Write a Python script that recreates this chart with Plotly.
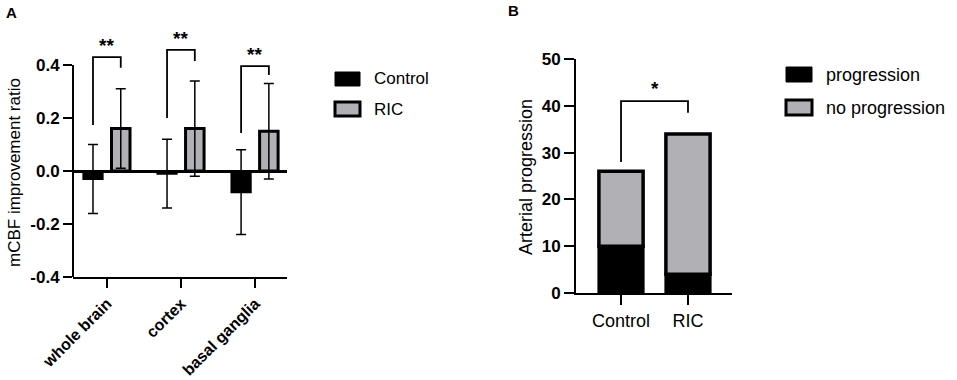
import plotly.graph_objects as go

# ---------------- data ----------------
regions = ["whole brain", "cortex", "basal ganglia"]
control_mean = [-0.03, -0.01, -0.08]
control_sd = [0.13, 0.13, 0.16]
ric_mean = [0.16, 0.16, 0.15]
ric_sd = [0.15, 0.18, 0.18]
sig_a = ["**", "**", "**"]
bracket_top_a = [0.43, 0.457, 0.396]
bracket_left_a = [0.174, 0.20, 0.143]
bracket_right_a = [0.39, 0.415, 0.362]
star_y_a = [0.475, 0.50, 0.44]
ytick_a = [-0.4, -0.2, 0.0, 0.2, 0.4]
ytext_a = ["-0.4", "-0.2", "0.0", "0.2", "0.4"]

groups = ["Control", "RIC"]
progression = [10, 4]
no_progression = [16, 30]
ytick_b = [0, 10, 20, 30, 40, 50]
sig_b = "*"
bracket_b = dict(top=41, left=28, right=38.5, star=43.7)

series_a = ["Control", "RIC"]
series_b = ["progression", "no progression"]

# ---------------- style ----------------
W, H = 957, 380
FONT = "Arial, Liberation Sans, sans-serif"
GREY = "#b0b0b5"
BLACK = "#000000"

def px(x):
    return x / W

def py(y):
    return 1 - y / H

fig = go.Figure()

# Panel A bars
fig.add_trace(go.Bar(
    x=regions, y=control_mean, name=series_a[0],
    marker=dict(color=BLACK, line=dict(color=BLACK, width=2)),
    width=0.26, offset=-0.32,
    error_y=dict(type="data", array=control_sd, visible=True, color=BLACK, thickness=1.5, width=5),
    xaxis="x", yaxis="y", showlegend=False))
fig.add_trace(go.Bar(
    x=regions, y=ric_mean, name=series_a[1],
    marker=dict(color=GREY, line=dict(color=BLACK, width=3)),
    width=0.25, offset=0.06,
    error_y=dict(type="data", array=ric_sd, visible=True, color=BLACK, thickness=1.5, width=5),
    xaxis="x", yaxis="y", showlegend=False))

# Panel B stacked bars
fig.add_trace(go.Bar(
    x=groups, y=progression, name=series_b[0],
    marker=dict(color=BLACK, line=dict(color=BLACK, width=3)),
    width=0.66, offset=-0.33,
    xaxis="x2", yaxis="y2", showlegend=False))
fig.add_trace(go.Bar(
    x=groups, y=no_progression, base=progression, name=series_b[1],
    marker=dict(color=GREY, line=dict(color=BLACK, width=3.5)),
    width=0.66, offset=-0.33,
    xaxis="x2", yaxis="y2", showlegend=False))

shapes = []
annotations = []

# A: y-axis line only from -0.4 to 0.4
shapes.append(dict(type="line", xref="x domain", yref="y", x0=0, x1=0, y0=-0.4, y1=0.4,
                   line=dict(color=BLACK, width=2)))

# A: significance brackets
cl, cr = -0.19, 0.185
for i in range(len(regions)):
    shapes.append(dict(type="path", xref="x", yref="y",
                       path=f"M{i+cl},{bracket_left_a[i]} L{i+cl},{bracket_top_a[i]} L{i+cr},{bracket_top_a[i]} L{i+cr},{bracket_right_a[i]}",
                       line=dict(color=BLACK, width=1.8)))
    annotations.append(dict(x=i + (cl + cr) / 2, y=star_y_a[i], xref="x", yref="y", text=f"<b>{sig_a[i]}</b>",
                            xanchor="center", yanchor="middle",
                            showarrow=False, font=dict(size=19, family=FONT, color=BLACK)))

# B: bracket
shapes.append(dict(type="path", xref="x2", yref="y2",
                   path=f"M0,{bracket_b['left']} L0,{bracket_b['top']} L1,{bracket_b['top']} L1,{bracket_b['right']}",
                   line=dict(color=BLACK, width=1.8)))
annotations.append(dict(x=0.5, y=bracket_b["star"], xref="x2", yref="y2", text=f"<b>{sig_b}</b>",
                        xanchor="center", yanchor="middle",
                        showarrow=False, font=dict(size=19, family=FONT, color=BLACK)))

# Manual legends
def legend_item(x0, y0, w, h, fill, lw, label, fs):
    shapes.append(dict(type="rect", xref="paper", yref="paper",
                       x0=px(x0), x1=px(x0 + w), y0=py(y0 + h), y1=py(y0),
                       fillcolor=fill, line=dict(color=BLACK, width=lw)))
    annotations.append(dict(x=px(x0 + w + 12), y=py(y0 + h / 2), xref="paper", yref="paper",
                            text=label, showarrow=False, xanchor="left", yanchor="middle",
                            font=dict(size=fs, family=FONT, color=BLACK)))

legend_item(335, 72, 25, 14, BLACK, 1, series_a[0], 17)
legend_item(335, 102, 25, 14, GREY, 3, series_a[1], 17)
legend_item(786, 67, 26, 15, BLACK, 1, series_b[0], 18)
legend_item(786, 100, 26, 15, GREY, 3, series_b[1], 18)

# Axis titles and panel labels
annotations.append(dict(x=px(14), y=py(173), xref="paper", yref="paper", text="mCBF improvement ratio",
                        xanchor="center", yanchor="middle",
                        textangle=-90, showarrow=False, font=dict(size=17, family=FONT, color=BLACK)))
annotations.append(dict(x=px(526), y=py(177), xref="paper", yref="paper", text="Arterial progression",
                        xanchor="center", yanchor="middle",
                        textangle=-90, showarrow=False, font=dict(size=18, family=FONT, color=BLACK)))
annotations.append(dict(x=px(11), y=py(13), xref="paper", yref="paper", text="<b>A</b>",
                        xanchor="center", yanchor="middle",
                        showarrow=False, font=dict(size=15, family=FONT, color=BLACK)))
annotations.append(dict(x=px(513), y=py(11), xref="paper", yref="paper", text="<b>B</b>",
                        xanchor="center", yanchor="middle",
                        showarrow=False, font=dict(size=15, family=FONT, color=BLACK)))

fig.update_layout(
    template="none",
    width=W, height=H, margin=dict(l=0, r=0, t=0, b=0, pad=0),
    paper_bgcolor="white", plot_bgcolor="white",
    barmode="overlay", showlegend=False,
    font=dict(family=FONT, color=BLACK),
    shapes=shapes, annotations=annotations,
    xaxis=dict(domain=[px(73), px(287)], anchor="y", type="category", automargin=False,
               categoryorder="array", categoryarray=regions,
               tickvals=regions, ticktext=[f"<b>{r}</b>" for r in regions],
               range=[-0.46, 2.43], showline=True, linecolor=BLACK, linewidth=2,
               ticks="outside", ticklen=9, tickwidth=2, tickcolor=BLACK,
               tickangle=-45, tickfont=dict(size=16, family=FONT, color=BLACK),
               showgrid=False, zeroline=False, fixedrange=True),
    yaxis=dict(domain=[py(277), py(277 - 0.92 * 265)], anchor="x", automargin=False,
               range=[-0.4, 0.52], tickvals=ytick_a, ticktext=[f"<b>{t}</b>" for t in ytext_a],
               showline=False, ticks="outside", ticklen=9, tickwidth=2, tickcolor=BLACK,
               tickfont=dict(size=17, family=FONT, color=BLACK),
               showgrid=False, zeroline=True, zerolinecolor=BLACK, zerolinewidth=2.5,
               fixedrange=True),
    xaxis2=dict(domain=[px(576), px(732)], anchor="y2", type="category", automargin=False,
                categoryorder="array", categoryarray=groups,
                range=[-0.672, 1.657], showline=True, linecolor=BLACK, linewidth=2,
                ticks="outside", ticklen=10, tickwidth=2, tickcolor=BLACK,
                tickfont=dict(size=18, family=FONT, color=BLACK),
                showgrid=False, zeroline=False, fixedrange=True),
    yaxis2=dict(domain=[py(293), py(59)], anchor="x2", range=[0, 50], automargin=False,
                tickvals=ytick_b, ticktext=[f"<b>{t}</b>" for t in ytick_b],
                showline=True, linecolor=BLACK, linewidth=2,
                ticks="outside", ticklen=10, tickwidth=2, tickcolor=BLACK,
                tickfont=dict(size=17, family=FONT, color=BLACK),
                showgrid=False, zeroline=False, fixedrange=True),
)

fig.write_html("out.html", config={"displayModeBar": False},
               post_script="document.body.style.margin='0';document.body.style.overflow='hidden';")
